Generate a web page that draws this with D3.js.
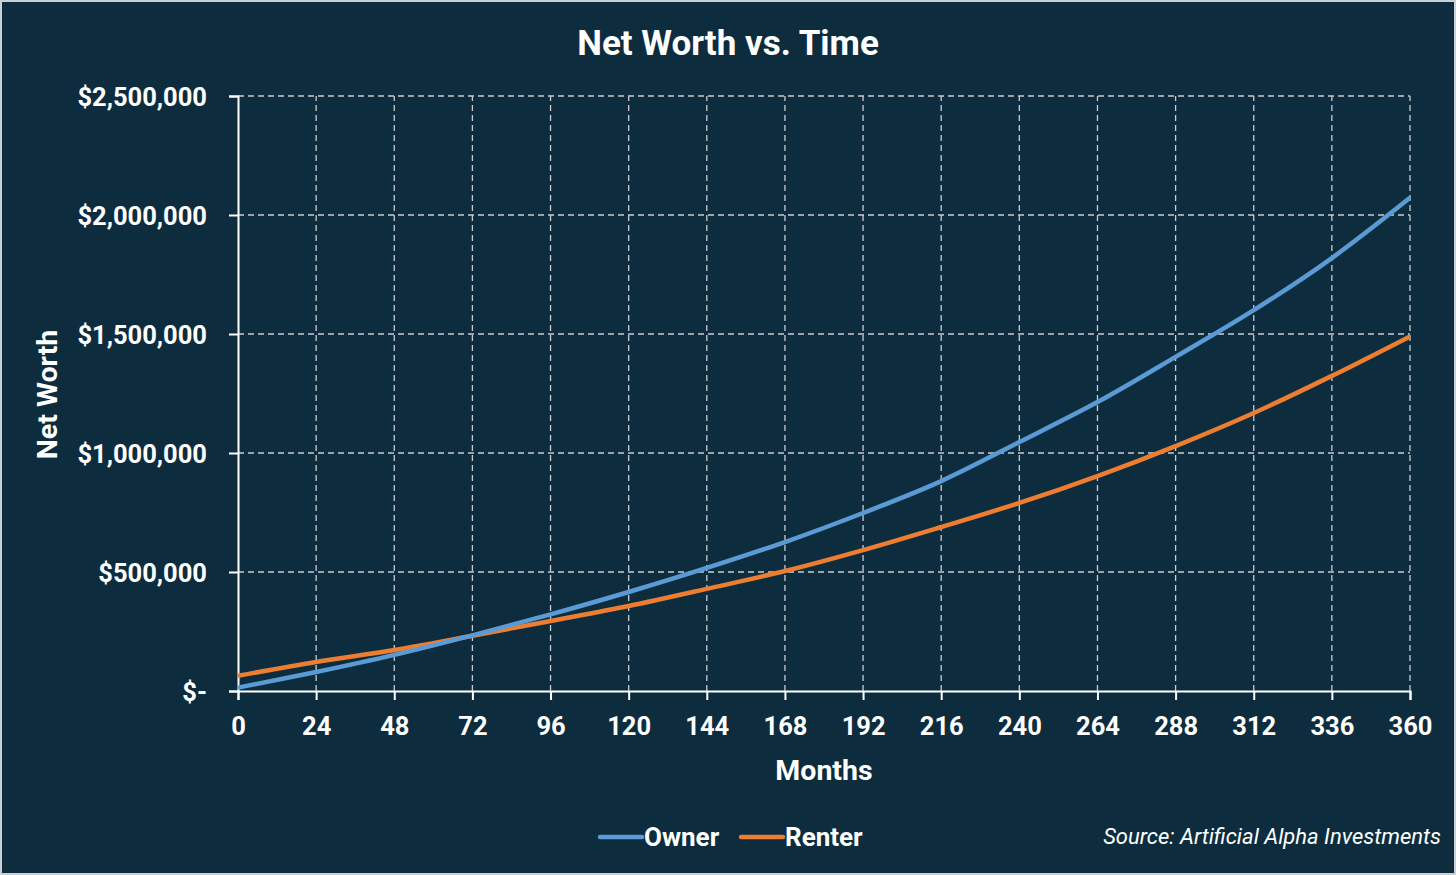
<!DOCTYPE html>
<html>
<head>
<meta charset="utf-8">
<script src="https://cdn.jsdelivr.net/npm/d3@7"></script>
<style>
  html, body { margin: 0; padding: 0; background: #0d2d3f; }
  svg { display: block; }
  text { font-family: Roboto, "Open Sans", sans-serif; fill: #ffffff; }
</style>
</head>
<body>
<svg id="chart" width="1456" height="875"></svg>
<script>
const months = [0, 24, 48, 72, 96, 120, 144, 168, 192, 216, 240, 264, 288, 312, 336, 360];
const owner = [14000, 80000, 152000, 234000, 322000, 416000, 517000, 626000, 748000, 882000, 1046000, 1214000, 1404000, 1600000, 1819000, 2072000];
const renter = [64000, 122000, 172000, 232000, 294000, 357000, 429000, 504000, 592000, 689000, 790000, 903000, 1029000, 1168000, 1324000, 1490000];
const yTicks = [0, 500000, 1000000, 1500000, 2000000, 2500000];

const W = 1456, H = 875, margin = {top: 96, right: 46, bottom: 184, left: 238};

const svg = d3.select("#chart");

svg.append("rect")
    .attr("x", 1).attr("y", 1)
    .attr("width", W - 2).attr("height", H - 2)
    .attr("fill", "#0d2d3f")
    .attr("stroke", "#c9d1d6")
    .attr("stroke-width", 2);

const x = d3.scaleLinear()
    .domain([0, 360])
    .range([margin.left, W - margin.right]);

const y = d3.scaleLinear()
    .domain([0, 2500000])
    .range([H - margin.bottom, margin.top]);

// grid
svg.append("g")
    .selectAll("line")
    .data(months.slice(1))
    .join("line")
    .attr("x1", d => x(d)).attr("x2", d => x(d))
    .attr("y1", y(0)).attr("y2", y(2500000))
    .attr("stroke", "#c8ccd0")
    .attr("stroke-width", 1.3)
    .attr("stroke-dasharray", "6,4");

svg.append("g")
    .selectAll("line")
    .data(yTicks.slice(1))
    .join("line")
    .attr("x1", x(0)).attr("x2", x(360))
    .attr("y1", d => y(d)).attr("y2", d => y(d))
    .attr("stroke", "#c8ccd0")
    .attr("stroke-width", 1.3)
    .attr("stroke-dasharray", "6,4");

// axes
const fmt = d => d === 0 ? "$-" : "$" + d3.format(",")(d);

const xAxis = svg.append("g")
    .attr("transform", `translate(0,${y(0)})`)
    .call(d3.axisBottom(x).tickValues(months).tickSize(9).tickPadding(17));

const yAxis = svg.append("g")
    .attr("transform", `translate(${x(0)},0)`)
    .call(d3.axisLeft(y).tickValues(yTicks).tickFormat(fmt).tickSize(9).tickPadding(22));

[xAxis, yAxis].forEach(g => {
    g.select(".domain").attr("stroke", "#ffffff").attr("stroke-width", 2);
    g.selectAll(".tick line").attr("stroke", "#ffffff").attr("stroke-width", 2);
    g.selectAll(".tick text")
        .attr("fill", "#ffffff")
        .style("font-size", "25.5px")
        .style("font-weight", "bold");
});
yAxis.selectAll(".tick text").attr("dy", "0.36em");

// lines
const line = d3.line()
    .x((d, i) => x(months[i]))
    .y(d => y(d))
    .curve(d3.curveMonotoneX);

svg.append("path")
    .datum(renter)
    .attr("fill", "none")
    .attr("stroke", "#ed7d31")
    .attr("stroke-width", 4.5)
    .attr("d", line);

svg.append("path")
    .datum(owner)
    .attr("fill", "none")
    .attr("stroke", "#5b9bd5")
    .attr("stroke-width", 4.5)
    .attr("d", line);

// titles
svg.append("text")
    .attr("x", W / 2).attr("y", 55)
    .attr("text-anchor", "middle")
    .style("font-size", "35px")
    .style("font-weight", "bold")
    .text("Net Worth vs. Time");

svg.append("text")
    .attr("x", (x(0) + x(360)) / 2).attr("y", 780)
    .attr("text-anchor", "middle")
    .style("font-size", "28.5px")
    .style("font-weight", "bold")
    .text("Months");

svg.append("text")
    .attr("transform", `translate(57,${(y(0) + y(2500000)) / 2 + 1}) rotate(-90)`)
    .attr("text-anchor", "middle")
    .style("font-size", "28.5px")
    .style("font-weight", "bold")
    .text("Net Worth");

// legend
const legend = [{name: "Owner", color: "#5b9bd5", x: 600}, {name: "Renter", color: "#ed7d31", x: 741}];
const lg = svg.append("g").selectAll("g").data(legend).join("g");
lg.append("line")
    .attr("x1", d => d.x).attr("x2", d => d.x + 42)
    .attr("y1", 837).attr("y2", 837)
    .attr("stroke", d => d.color)
    .attr("stroke-width", 4.5)
    .attr("stroke-linecap", "round");
lg.append("text")
    .attr("x", d => d.x + 44).attr("y", 846)
    .style("font-size", "26px")
    .style("font-weight", "bold")
    .text(d => d.name);

svg.append("text")
    .attr("x", 1441).attr("y", 844)
    .attr("text-anchor", "end")
    .style("font-size", "22px")
    .style("font-style", "italic")
    .text("Source: Artificial Alpha Investments");
</script>
</body>
</html>
